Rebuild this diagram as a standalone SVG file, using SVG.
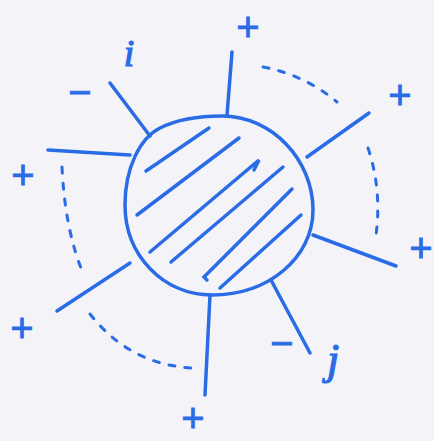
<svg xmlns="http://www.w3.org/2000/svg" width="434" height="441" viewBox="0 0 434 441">
<style>
.ln{stroke:#2a6be6;stroke-width:3.5;stroke-linecap:round;fill:none}
.dash{stroke:#2a6be6;stroke-width:3;stroke-linecap:round;fill:none;stroke-dasharray:6 10}
.sg{font-family:"Liberation Sans",Arial,sans-serif;font-size:40px;fill:#2a6be6;stroke:#2a6be6;stroke-width:0.8;text-anchor:middle}
.lb{font-family:"Liberation Serif","Times New Roman",serif;font-style:italic;fill:#2a6be6;stroke:#2a6be6;stroke-width:1.2;text-anchor:middle}
</style>
<rect width="434" height="441" fill="#f4f4f8"/>
<g id="blob">
<path class="ln" d="M125,205 C125,168 140,138 160,128 C178,119 200,116 222,116 C272,116 313,160 313,210 C313,258 268,295 212,295 C163,295 125,255 125,205 Z"/>
<g id="hatch">
<path class="ln" d="M146,171 L209,128"/>
<path class="ln" d="M137,215 L239,138"/>
<path class="ln" d="M150,252 L259,160 L254,170"/>
<path class="ln" d="M171,262 L283,167"/>
<path class="ln" d="M207,280 L204,277 L292,189"/>
<path class="ln" d="M220,288 L301,215"/>
</g>
</g>
<g id="connectors">
<path class="ln" d="M110,83 L150,136"/>
<path class="ln" d="M48,150 L130,155"/>
<path class="ln" d="M232,52 L227,115"/>
<path class="ln" d="M369,113 L307,157"/>
<path class="ln" d="M313,235 L396,266"/>
<path class="ln" d="M271,280 L310,353"/>
<path class="ln" d="M210,295 L205,395"/>
<path class="ln" d="M130,263 L57,311"/>
<path class="dash" d="M263,67 Q305,75 337,102"/>
<path class="dash" d="M368,148 Q382,190 376,235"/>
<path class="dash" d="M62,167 Q65,230 83,273"/>
<path class="dash" d="M90,314 Q130,365 193,368"/>
</g>
<g id="labels">
<text class="sg" x="248" y="41">+</text>
<text class="sg" x="400" y="109">+</text>
<text class="sg" x="23" y="189">+</text>
<text class="sg" x="421" y="262">+</text>
<text class="sg" x="22" y="342">+</text>
<text class="sg" x="193" y="432">+</text>
<text class="sg" x="80" y="106">−</text>
<text class="sg" x="282" y="357">−</text>
<text class="lb" x="129" y="66" font-size="38">i</text>
<text class="lb" x="333" y="374" font-size="44">j</text>
</g>
</svg>
